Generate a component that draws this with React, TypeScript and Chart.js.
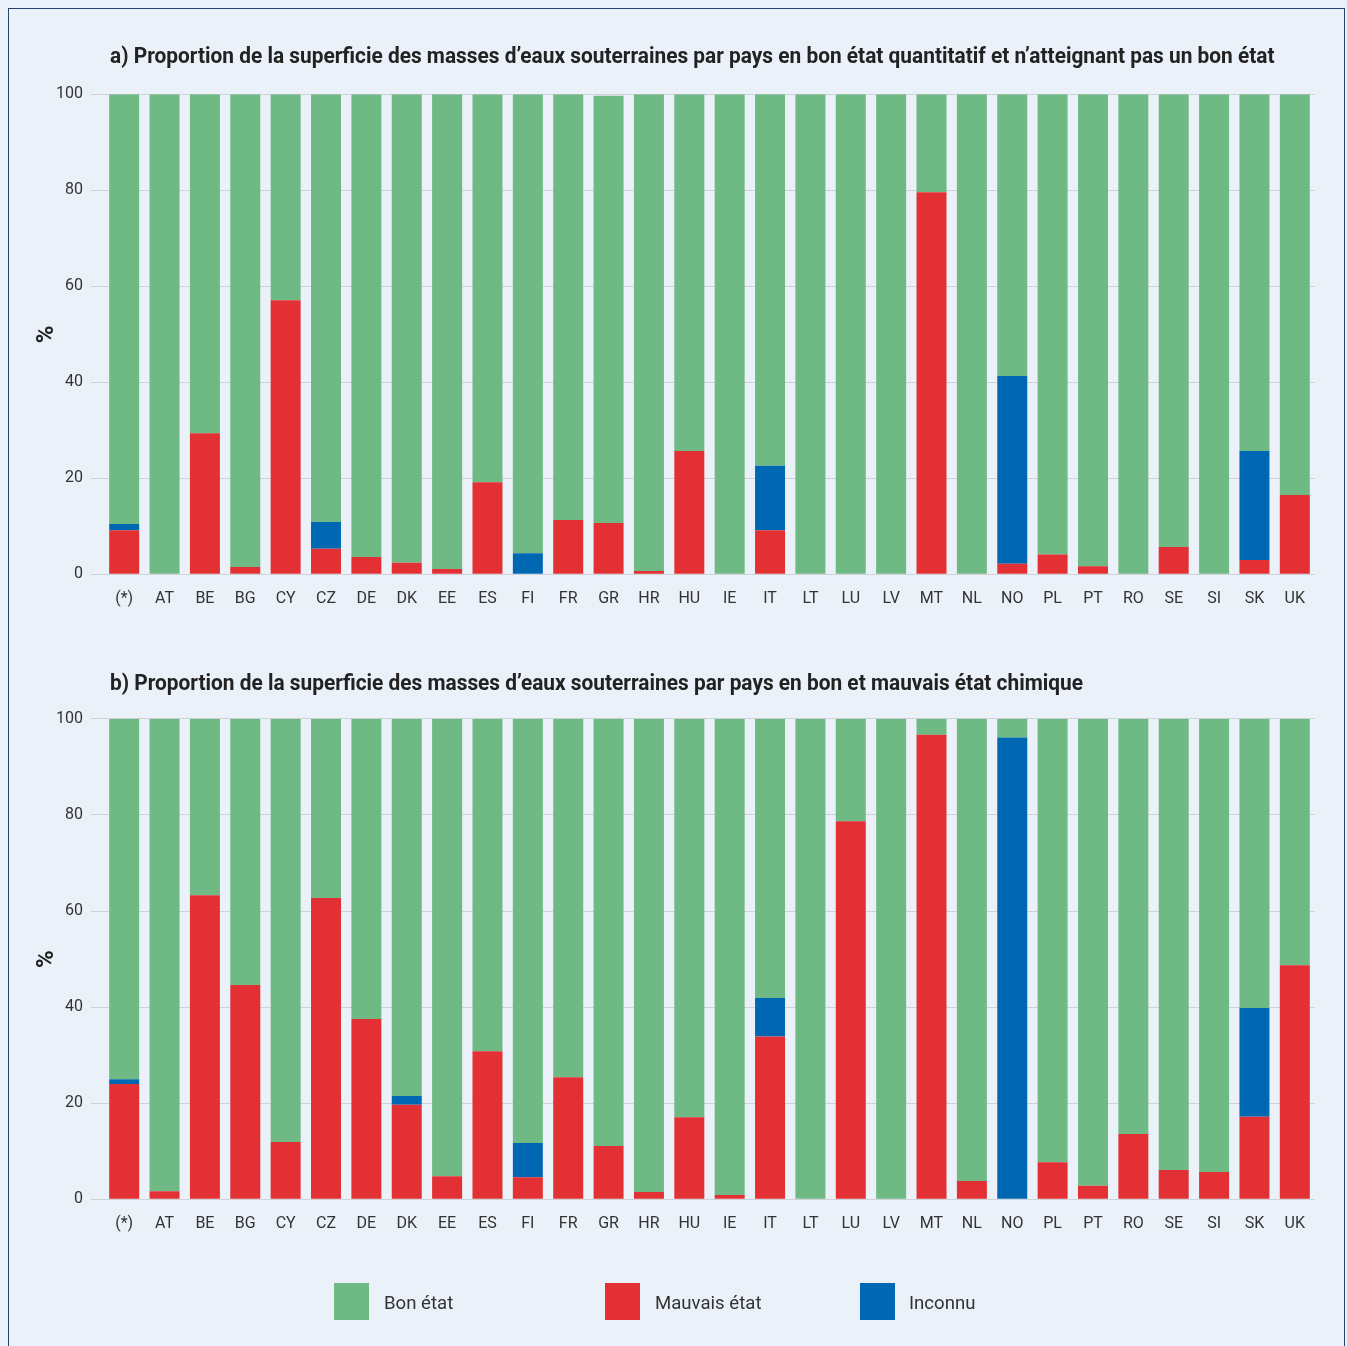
import React, { useEffect, useLayoutEffect, useRef, useState } from "react";
import { Chart, registerables } from "chart.js";

Chart.register(...registerables);

const categories = ["(*)", "AT", "BE", "BG", "CY", "CZ", "DE", "DK", "EE", "ES", "FI", "FR", "GR", "HR", "HU", "IE", "IT", "LT", "LU", "LV", "MT", "NL", "NO", "PL", "PT", "RO", "SE", "SI", "SK", "UK"];

// a) état quantitatif
const quantMauvais = [9.2, 0, 29.4, 1.5, 57.1, 5.3, 3.6, 2.4, 1.1, 19.2, 0, 11.3, 10.7, 0.7, 25.7, 0, 9.2, 0, 0, 0, 79.6, 0, 2.2, 4.1, 1.7, 0, 5.7, 0, 3.0, 16.5];
const quantInconnu = [1.3, 0, 0, 0, 0, 5.6, 0, 0, 0, 0, 4.4, 0, 0, 0, 0, 0, 13.4, 0, 0, 0, 0, 0, 39.1, 0, 0, 0, 0, 0, 22.7, 0];
const quantBon = [89.5, 100, 70.6, 98.5, 42.9, 89.1, 96.4, 97.6, 98.9, 80.8, 95.6, 88.7, 89.0, 99.3, 74.3, 100, 77.4, 100, 100, 100, 20.4, 100, 58.7, 95.9, 98.3, 100, 94.3, 100, 74.3, 83.5];

// b) état chimique
const chemMauvais = [24.0, 1.7, 63.3, 44.6, 11.9, 62.7, 37.5, 19.7, 4.8, 30.8, 4.6, 25.4, 11.1, 1.5, 17.1, 0.9, 33.9, 0, 78.7, 0, 96.7, 3.8, 0, 7.7, 2.8, 13.6, 6.1, 5.7, 17.2, 48.7];
const chemInconnu = [1.0, 0, 0, 0, 0, 0, 0, 1.8, 0, 0, 7.1, 0, 0, 0, 0, 0, 8.0, 0, 0, 0, 0, 0, 96.1, 0, 0, 0, 0, 0, 22.6, 0];
const chemBon = [75.0, 98.3, 36.7, 55.4, 88.1, 37.3, 62.5, 78.5, 95.2, 69.2, 88.3, 74.6, 88.9, 98.5, 82.9, 99.1, 58.1, 100, 21.3, 100, 3.3, 96.2, 3.9, 92.3, 97.2, 86.4, 93.9, 94.3, 60.2, 51.3];

const yTicks = [0, 20, 40, 60, 80, 100];
const legendLabels = ["Bon état", "Mauvais état", "Inconnu"];
const titleA = "a) Proportion de la superficie des masses d’eaux souterraines par pays en bon état quantitatif et n’atteignant pas un bon état";
const titleB = "b) Proportion de la superficie des masses d’eaux souterraines par pays en bon et mauvais état chimique";
const yAxisLabel = "%";

const GREEN = "#6fb985";
const RED = "#e33034";
const BLUE = "#0068b3";
const BG = "#eaf1f8";
const GRID = "#cfd2d6";
const TEXT = "#333333";

type BarProps = {
  red: number[];
  blue: number[];
  green: number[];
  padTop: number;
  xAxisHeight: number;
  style: React.CSSProperties;
};

function StackedBars({ red, blue, green, padTop, xAxisHeight, style }: BarProps) {
  const ref = useRef<HTMLCanvasElement | null>(null);
  useEffect(() => {
    if (!ref.current) return;
    const chart = new Chart(ref.current, {
      type: "bar",
      data: {
        labels: categories,
        datasets: [
          { label: legendLabels[1], data: red, backgroundColor: RED, borderWidth: 0 },
          { label: legendLabels[2], data: blue, backgroundColor: BLUE, borderWidth: 0 },
          { label: legendLabels[0], data: green, backgroundColor: GREEN, borderWidth: 0 },
        ],
      },
      options: {
        responsive: false,
        animation: false,
        events: [],
        datasets: { bar: { categoryPercentage: 0.743, barPercentage: 1 } },
        layout: { padding: { top: padTop, left: 0, right: 25, bottom: 0 } },
        plugins: { legend: { display: false }, tooltip: { enabled: false }, title: { display: false } },
        scales: {
          x: {
            stacked: true,
            grid: { display: false, drawTicks: false, tickLength: 0 },
            border: { display: false },
            ticks: { color: TEXT, font: { family: "Roboto", size: 16 }, padding: 15.5, maxRotation: 0, autoSkip: false },
            afterFit: (scale: any) => {
              scale.height = xAxisHeight;
            },
          },
          y: {
            stacked: true,
            min: 0,
            max: 100,
            afterBuildTicks: (scale: any) => {
              scale.ticks = yTicks.map((v) => ({ value: v }));
            },
            grid: { color: GRID, lineWidth: 1, drawTicks: true, tickLength: 13, tickColor: GRID },
            border: { display: false },
            ticks: { color: TEXT, font: { family: "Roboto", size: 16 }, padding: 8 },
            title: {
              display: true,
              text: yAxisLabel,
              color: "#222222",
              font: { family: "Roboto", size: 24, weight: "bold" },
              padding: { top: 24, bottom: 0 },
            },
            afterFit: (scale: any) => {
              scale.width = 95;
            },
          },
        },
      },
    });
    return () => chart.destroy();
  }, [red, blue, green, padTop, xAxisHeight]);
  return (
    <canvas
      ref={ref}
      width={1331}
      height={560}
      style={{ position: "absolute", width: 1331, height: 560, maxWidth: "none", ...style }}
    />
  );
}

export default function App() {
  const titleRef = useRef<HTMLSpanElement | null>(null);
  const [sx, setSx] = useState(0.85);

  useLayoutEffect(() => {
    document.documentElement.style.background = BG;
    document.body.style.background = BG;
    document.documentElement.style.overflow = "hidden";
    const measure = () => {
      if (titleRef.current) {
        const w = titleRef.current.offsetWidth;
        if (w > 0) setSx(1165 / w);
      }
    };
    measure();
    if ((document as any).fonts && (document as any).fonts.ready) {
      (document as any).fonts.ready.then(measure);
    }
  }, []);

  const titleStyle: React.CSSProperties = {
    position: "absolute",
    left: 101,
    fontFamily: "Roboto",
    fontWeight: 700,
    fontSize: 22,
    lineHeight: "26px",
    color: "#222222",
    whiteSpace: "nowrap",
    maxWidth: "none",
    transform: `scaleX(${sx})`,
    transformOrigin: "left center",
  };

  const legendItems = [
    { label: legendLabels[0], color: GREEN, box: 325, text: 375 },
    { label: legendLabels[1], color: RED, box: 596, text: 646 },
    { label: legendLabels[2], color: BLUE, box: 851, text: 900 },
  ];

  return (
    <div
      style={{
        position: "relative",
        width: 1331,
        height: 1340,
        background: BG,
      }}
    >
      <div
        style={{
          position: "fixed",
          left: 8,
          top: 8,
          width: 1337,
          height: 1400,
          boxSizing: "border-box",
          border: "1px solid #27436a",
          pointerEvents: "none",
        }}
      />
      <div style={{ position: "absolute", left: 1, top: 1, width: 1335, height: 1339 }}>
        <span ref={titleRef} style={{ ...titleStyle, top: 34 }}>{titleA}</span>
        <StackedBars red={quantMauvais} blue={quantInconnu} green={quantBon} padTop={20.3} xAxisHeight={59.7} style={{ left: 0, top: 65 }} />
        <span style={{ ...titleStyle, top: 661 }}>{titleB}</span>
        <StackedBars red={chemMauvais} blue={chemInconnu} green={chemBon} padTop={19.8} xAxisHeight={59.7} style={{ left: 0, top: 690 }} />
        {legendItems.map((it) => (
          <React.Fragment key={it.label}>
            <div style={{ position: "absolute", left: it.box, top: 1274, width: 35, height: 37, background: it.color }} />
            <span
              style={{
                position: "absolute",
                left: it.text,
                top: 1282,
                fontFamily: "Roboto",
                fontSize: 19,
                lineHeight: "24px",
                color: TEXT,
                whiteSpace: "nowrap",
                transform: `scaleX(${Math.min(1, sx + 0.03)})`,
                transformOrigin: "left center",
              }}
            >
              {it.label}
            </span>
          </React.Fragment>
        ))}
      </div>
    </div>
  );
}
